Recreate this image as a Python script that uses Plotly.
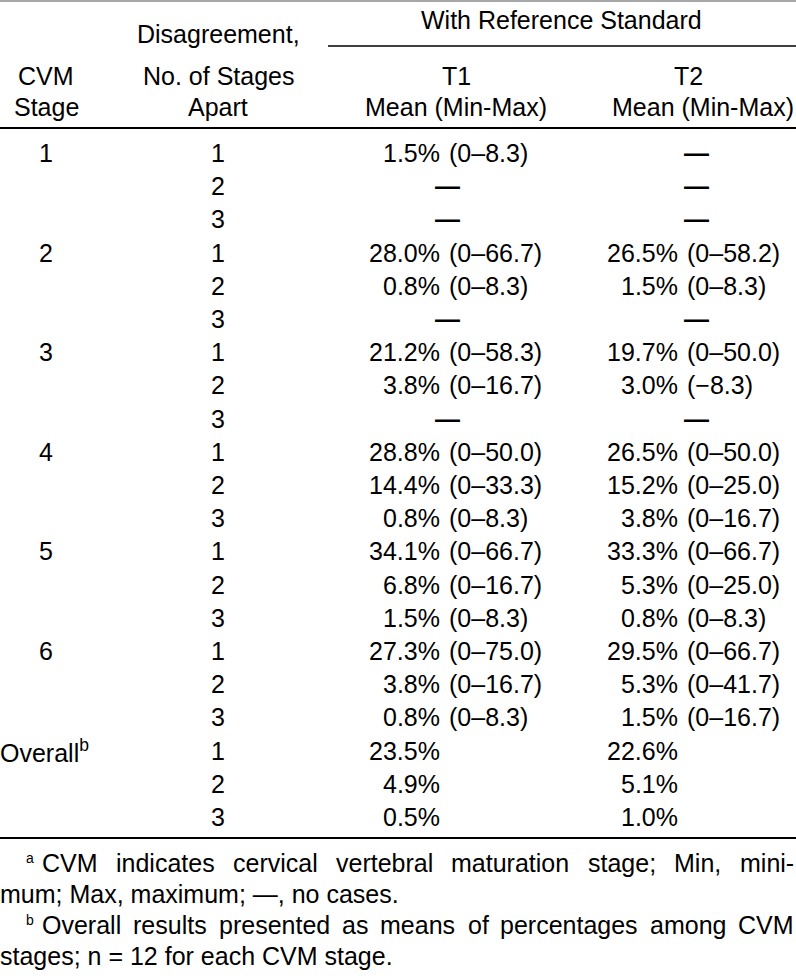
import plotly.graph_objects as go

# ---------------- data ----------------
cvm_stages = ["1", "2", "3", "4", "5", "6", "Overall<sup>b</sup>"]
stages_apart = ["1", "2", "3"]

t1_mean = [1.5, None, None, 28.0, 0.8, None, 21.2, 3.8, None,
           28.8, 14.4, 0.8, 34.1, 6.8, 1.5, 27.3, 3.8, 0.8, 23.5, 4.9, 0.5]
t1_range = ["0–8.3", None, None, "0–66.7", "0–8.3", None, "0–58.3", "0–16.7", None,
            "0–50.0", "0–33.3", "0–8.3", "0–66.7", "0–16.7", "0–8.3",
            "0–75.0", "0–16.7", "0–8.3", None, None, None]
t2_mean = [None, None, None, 26.5, 1.5, None, 19.7, 3.0, None,
           26.5, 15.2, 3.8, 33.3, 5.3, 0.8, 29.5, 5.3, 1.5, 22.6, 5.1, 1.0]
t2_range = [None, None, None, "0–58.2", "0–8.3", None, "0–50.0", "−8.3", None,
            "0–50.0", "0–25.0", "0–16.7", "0–66.7", "0–25.0", "0–8.3",
            "0–66.7", "0–41.7", "0–16.7", None, None, None]

header_group = "With Reference Standard"
col_headers = [["CVM", "Stage"], ["Disagreement,", "No. of Stages", "Apart"],
               ["T1", "Mean (Min-Max)"], ["T2", "Mean (Min-Max)"]]

footnote_a = ["CVM", "indicates", "cervical", "vertebral", "maturation", "stage;", "Min,", "mini-"]
footnote_a2 = "mum; Max, maximum; —, no cases."
footnote_b = ["Overall", "results", "presented", "as", "means", "of", "percentages", "among", "CVM"]
footnote_b2 = "stages; n = 12 for each CVM stage."

# ---------------- layout constants ----------------
W, H = 796, 979
ROW0, ROW_H = 153, 33.2
FONT = "Liberation Sans, Arial, Helvetica, sans-serif"
BODY = 25
FOOT = 25
X_STAGE, X_APART = 46, 218
T1_PCT, T1_RNG, T1_DASH, T1_HEAD, T1_SUB = 440, 449, 447, 456, 456
T2_PCT, T2_RNG, T2_DASH, T2_HEAD, T2_SUB = 678, 687, 696, 688, 703

# Arial/Liberation Sans advance widths (1/1000 em) for justification
AW = {" ": 278, "a": 556, "b": 556, "c": 500, "d": 556, "e": 556, "f": 278, "g": 556,
      "h": 556, "i": 222, "l": 222, "m": 833, "n": 556, "o": 556, "p": 556, "r": 333,
      "s": 500, "t": 278, "u": 556, "v": 500, "x": 500, "C": 722, "M": 833, "V": 667,
      "O": 778, ";": 278, ",": 278, "-": 333, ".": 278}


def wwidth(word, size):
    return sum(AW.get(ch, 556) for ch in word) * size / 1000.0


ann = []


def txt(x, y, s, anchor="center", size=BODY, color="black"):
    ann.append(dict(x=x, y=y, xref="x", yref="y", text=s, showarrow=False,
                    xanchor=anchor, yanchor="middle", borderpad=0, borderwidth=0,
                    font=dict(family=FONT, size=size, color=color)))


# header
txt(561, 20, header_group)
txt(218, 34, col_headers[1][0])
txt(X_STAGE, 76, col_headers[0][0])
txt(X_APART, 76, col_headers[1][1])
txt(T1_HEAD, 76, col_headers[2][0])
txt(T2_HEAD, 76, col_headers[3][0])
txt(X_STAGE, 107, col_headers[0][1])
txt(X_APART, 107, col_headers[1][2])
txt(T1_SUB, 107, col_headers[2][1])
txt(T2_SUB, 107, col_headers[3][1])

# body
n_rows = len(t1_mean)
for i in range(n_rows):
    y = ROW0 + ROW_H * i
    if i % 3 == 0:
        st = cvm_stages[i // 3]
        if st.startswith("Overall"):
            txt(0, y, st, anchor="left")
        else:
            txt(X_STAGE, y, st)
    txt(X_APART, y, stages_apart[i % 3])
    for mean, rng, xp, xr, xd in ((t1_mean[i], t1_range[i], T1_PCT, T1_RNG, T1_DASH),
                                  (t2_mean[i], t2_range[i], T2_PCT, T2_RNG, T2_DASH)):
        if mean is None:
            txt(xd, y, "<b>—</b>")
        else:
            txt(xp, y, f"{mean:.1f}%", anchor="right")
            if rng is not None:
                txt(xr, y, f"({rng})", anchor="left")

# footnotes (justified first lines)
FN_Y = [863, 894, 925, 956]
X_IND, X_END = 42, 794


def justified(words, y, sup):
    total = sum(wwidth(w, FOOT) for w in words)
    gap = (X_END - X_IND - total) / (len(words) - 1)
    x = X_IND
    for w in words:
        txt(x, y, w, anchor="left", size=FOOT)
        x += wwidth(w, FOOT) + gap
    txt(26, y - 5, sup, anchor="left", size=14)


justified(footnote_a, FN_Y[0], "a")
txt(0, FN_Y[1], footnote_a2, anchor="left", size=FOOT)
justified(footnote_b, FN_Y[2], "b")
txt(0, FN_Y[3], footnote_b2, anchor="left", size=FOOT)

# rules
shapes = [
    dict(type="line", xref="x", yref="y", x0=0, x1=W, y0=1, y1=1, line=dict(color="#8a8a8a", width=1.5)),
    dict(type="line", xref="x", yref="y", x0=328, x1=W, y0=46, y1=46, line=dict(color="black", width=1.5)),
    dict(type="line", xref="x", yref="y", x0=0, x1=W, y0=128, y1=128, line=dict(color="black", width=2)),
    dict(type="line", xref="x", yref="y", x0=0, x1=W, y0=838, y1=838, line=dict(color="black", width=2)),
]

fig = go.Figure()
fig.update_layout(
    width=W, height=H, margin=dict(l=0, r=0, t=0, b=0),
    paper_bgcolor="white", plot_bgcolor="white",
    xaxis=dict(range=[0, W], visible=False, fixedrange=True),
    yaxis=dict(range=[H, 0], visible=False, fixedrange=True),
    annotations=ann, shapes=shapes, showlegend=False,
)
fig.write_html("out.html", config={"displayModeBar": False, "staticPlot": True},
               post_script="document.body.style.margin='0';document.body.style.overflow='hidden';")
